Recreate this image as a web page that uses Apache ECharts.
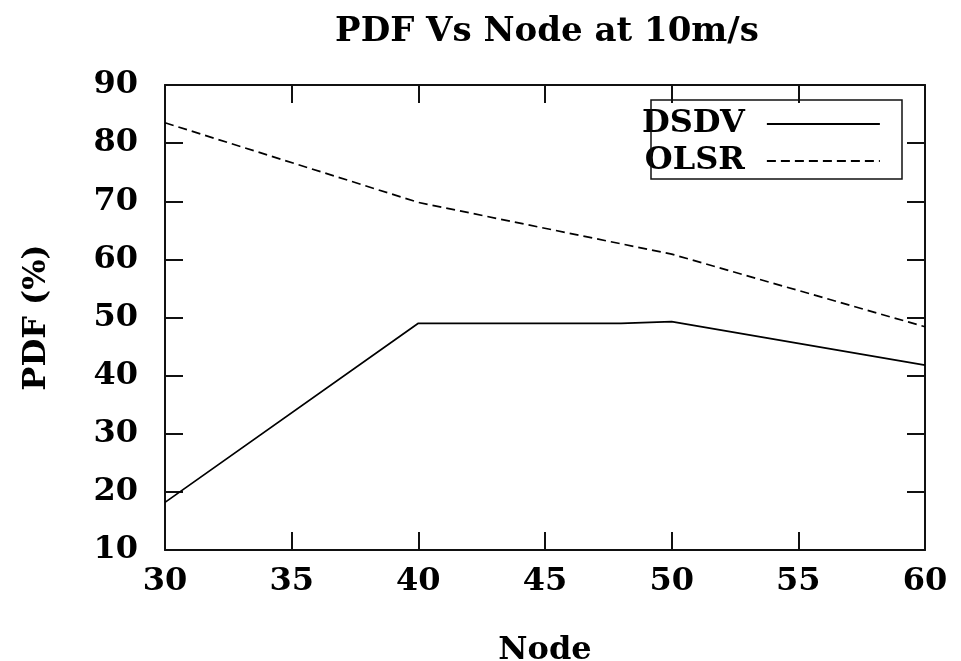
<!DOCTYPE html>
<html>
<head>
<meta charset="utf-8">
<script src="https://cdn.jsdelivr.net/npm/echarts@6/dist/echarts.min.js"></script>
<style>
  html, body { margin: 0; padding: 0; background: #fff; }
  #main { width: 961px; height: 661px; }
</style>
</head>
<body>
<div id="main"></div>
<script>
// values
var xTicks = [30, 35, 40, 45, 50, 55, 60];
var yTicks = [10, 20, 30, 40, 50, 60, 70, 80, 90];
var dsdvNodes = [30, 40, 48, 50, 60];
var dsdvPdf = [18.2, 49.0, 49.0, 49.3, 41.8];
var olsrNodes = [30, 40, 50, 60];
var olsrPdf = [83.5, 69.8, 60.9, 48.4];

var font = 'DejaVu Serif';

function pairs(xs, ys) {
  var out = [];
  for (var i = 0; i < xs.length; i++) out.push([xs[i], ys[i]]);
  return out;
}

var myChart = echarts.init(document.getElementById('main'));

var axisLine = { show: true, lineStyle: { color: '#111', width: 2 } };
var tick = { show: true, inside: true, length: 18, lineStyle: { color: '#111', width: 2 } };
var labelStyle = { color: '#000', fontFamily: font, fontWeight: 'bold', fontSize: 32 };

var option = {
  animation: false,
  backgroundColor: '#fff',
  title: {
    text: 'PDF Vs Node at 10m/s',
    left: 542,
    top: 10,
    textAlign: 'center',
    textStyle: { color: '#000', fontFamily: font, fontWeight: 'bold', fontSize: 34 }
  },
  graphic: [
    // legend frame
    { type: 'rect', shape: { x: 651, y: 100, width: 251, height: 79 }, style: { fill: 'none', stroke: '#111', lineWidth: 1.5 }, z: 10 }
  ],
  legend: {
    left: 642,
    top: 108,
    orient: 'vertical',
    align: 'right',
    itemWidth: 113,
    itemHeight: 14,
    itemGap: 5,
    padding: 0,
    data: ['DSDV', 'OLSR'],
    itemStyle: { color: 'transparent', borderWidth: 0, opacity: 0 },
    textStyle: { color: '#000', fontFamily: font, fontWeight: 'bold', fontSize: 32, lineHeight: 32, padding: [0, 17, 0, 0] }
  },
  grid: { left: 165, right: 36, top: 85, bottom: 111, outerBoundsMode: 'none', containLabel: false },
  xAxis: [
    {
      type: 'value',
      min: 30, max: 60, interval: 5,
      name: 'Node',
      nameLocation: 'middle',
      nameGap: 85,
      nameTextStyle: { color: '#000', fontFamily: font, fontWeight: 'bold', fontSize: 32 },
      axisLine: axisLine,
      axisTick: tick,
      axisLabel: Object.assign({ margin: 16 }, labelStyle),
      splitLine: { show: false }
    },
    {
      type: 'value',
      position: 'top',
      min: 30, max: 60, interval: 5,
      axisLine: axisLine,
      axisTick: tick,
      axisLabel: { show: false },
      splitLine: { show: false }
    }
  ],
  yAxis: [
    {
      type: 'value',
      min: 10, max: 90, interval: 10,
      name: 'PDF (%)',
      nameLocation: 'middle',
      nameGap: 112,
      nameTextStyle: { color: '#000', fontFamily: font, fontWeight: 'bold', fontSize: 32 },
      axisLine: axisLine,
      axisTick: tick,
      axisLabel: Object.assign({ margin: 27 }, labelStyle),
      splitLine: { show: false }
    },
    {
      type: 'value',
      position: 'right',
      min: 10, max: 90, interval: 10,
      axisLine: axisLine,
      axisTick: tick,
      axisLabel: { show: false },
      splitLine: { show: false }
    }
  ],
  series: [
    {
      name: 'DSDV',
      type: 'line',
      data: pairs(dsdvNodes, dsdvPdf),
      symbol: 'none',
      lineStyle: { color: '#000', width: 1.7, type: 'solid' },
      itemStyle: { color: '#000' }
    },
    {
      name: 'OLSR',
      type: 'line',
      data: pairs(olsrNodes, olsrPdf),
      symbol: 'none',
      lineStyle: { color: '#000', width: 1.7, type: [9, 5] },
      itemStyle: { color: '#000' }
    }
  ]
};

myChart.setOption(option);
window.addEventListener('resize', function () {
  myChart.resize();
});
</script>
</body>
</html>
